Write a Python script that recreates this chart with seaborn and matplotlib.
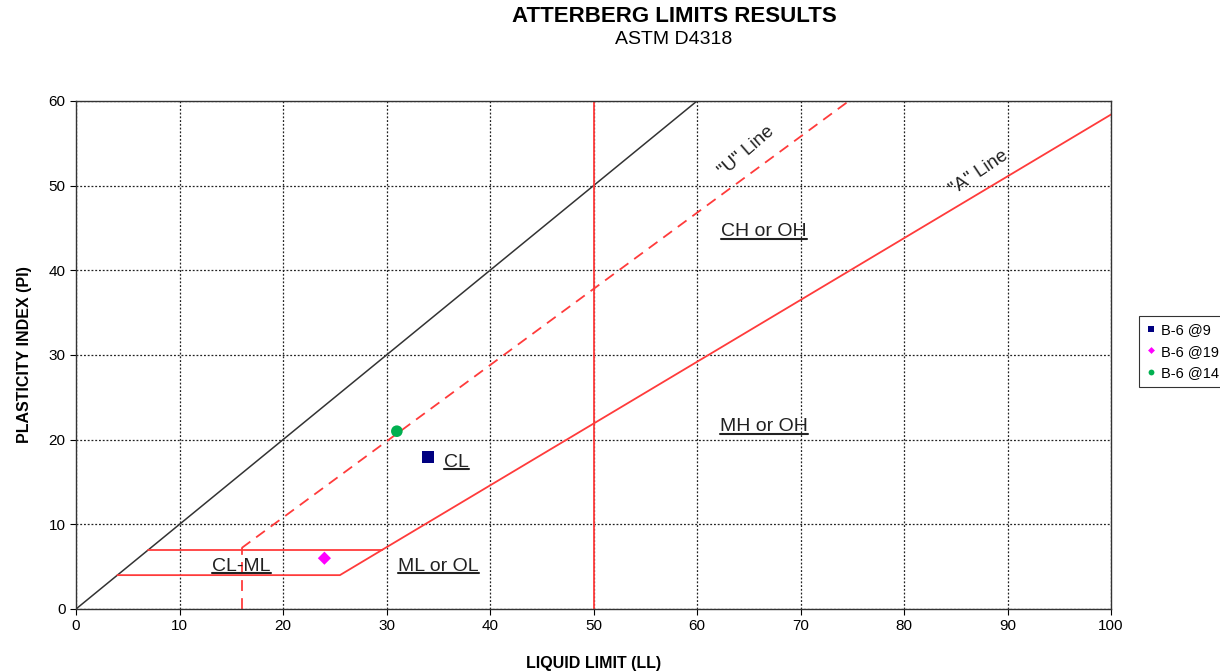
import matplotlib
matplotlib.use("Agg")
import matplotlib.pyplot as plt
import seaborn as sns
import pandas as pd
from matplotlib.lines import Line2D

# ---- data ----
samples = ["B-6 @9", "B-6 @19", "B-6 @14"]
liquid_limit = [34, 24, 31]
plasticity_index = [18, 6, 21]
sample_colors = ["#000080", "#FF00FF", "#00B050"]
sample_markers = ["s", "D", "o"]

# reference lines (LL, PI endpoints)
equal_ll = [0, 60]
equal_pi = [0, 60]
u_line_ll = [16, 74.67]
u_line_pi = [7.2, 60]
a_line_ll = [29.6, 100]
a_line_pi = [7, 58.4]
ll50_ll = [50, 50]
ll50_pi = [0, 60]
clml_top_ll = [7, 29.6]
clml_top_pi = [7, 7]
clml_bot_ll = [4, 25.5, 29.6]
clml_bot_pi = [4, 4, 7]
ll16_ll = [16, 16]
ll16_pi = [0, 7.2]

zone_labels = ["CH or OH", "MH or OH", "CL", "CL-ML", "ML or OL"]
zone_ll = [66.5, 66.5, 36.8, 16, 35]
zone_pi = [44.0, 21.0, 16.8, 4.5, 4.5]

xticks = list(range(0, 101, 10))
yticks = list(range(0, 61, 10))

sns.set_style("white")
plt.rcParams["font.family"] = ["Liberation Sans", "DejaVu Sans"]
plt.rcParams["text.color"] = "black"
plt.rcParams["axes.labelcolor"] = "black"
plt.rcParams["xtick.color"] = "black"
plt.rcParams["ytick.color"] = "black"

fig = plt.figure(figsize=(12.2, 6.72), dpi=100)
ax = fig.add_axes([76 / 1220, 1 - 609 / 672, (1111 - 76) / 1220, (609 - 101) / 672])

red = "#FF3B3B"
ax.plot(equal_ll, equal_pi, color="#333333", lw=1.1, zorder=2)
ax.plot(u_line_ll, u_line_pi, color=red, lw=1.3, ls=(0, (6, 4)), zorder=2)
ax.plot(a_line_ll, a_line_pi, color=red, lw=1.3, zorder=2)
ax.plot(ll50_ll, ll50_pi, color=red, lw=1.3, zorder=2)
ax.plot(clml_top_ll, clml_top_pi, color=red, lw=1.3, zorder=2)
ax.plot(clml_bot_ll, clml_bot_pi, color=red, lw=1.3, zorder=2)
ax.plot(ll16_ll, ll16_pi, color=red, lw=1.3, ls=(0, (6, 4)), zorder=2)

df = pd.DataFrame({"Sample": samples, "LL": liquid_limit, "PI": plasticity_index})
sns.scatterplot(data=df, x="LL", y="PI", hue="Sample", style="Sample", size="Sample",
                palette=dict(zip(samples, sample_colors)),
                markers=dict(zip(samples, sample_markers)),
                sizes=dict(zip(samples, [75, 45, 70])),
                edgecolor="none", ax=ax, zorder=5, legend=False)

ax.set_xlim(0, 100)
ax.set_ylim(0, 60)
ax.set_xticks(xticks)
ax.set_yticks(yticks)
ax.tick_params(labelsize=11, length=4, direction="out", color="black", bottom=True, left=True)
ax.grid(True, color="#222222", ls=(0, (1.5, 1.5)), lw=0.9)
for sp in ax.spines.values():
    sp.set_color("#333333")
    sp.set_linewidth(1.0)
ax.set_xlabel("LIQUID LIMIT (LL)", fontsize=11.5, fontweight="bold", labelpad=16)
ax.set_ylabel("PLASTICITY INDEX (PI)", fontsize=11.5, fontweight="bold", labelpad=12)

# zone labels (underlined)
texts = []
for lab, x, y in zip(zone_labels, zone_ll, zone_pi):
    t = ax.text(x, y, lab, fontsize=14, ha="center", va="baseline", color="#222222", zorder=6)
    texts.append(t)
ax.text(64.8, 54, '"U" Line', fontsize=13.5, rotation=41, ha="center", va="center", color="#222222")
ax.text(87.2, 51.5, '"A" Line', fontsize=13.5, rotation=34, ha="center", va="center", color="#222222")

fig.canvas.draw()
renderer = fig.canvas.get_renderer()
inv = ax.transAxes.inverted()
for t in texts:
    bb = t.get_window_extent(renderer)
    base = ax.transData.transform(t.get_position())[1]
    (x0, y0), (x1, y1) = inv.transform([(bb.x0, base - 2.5), (bb.x1, base - 2.5)])
    ax.add_line(Line2D([x0, x1], [y0, y1], transform=ax.transAxes, color="#222222", lw=1.5, zorder=6))

# legend
handles = [Line2D([], [], marker=m, color=c, ls="none", markersize=ms, markeredgewidth=0)
           for m, c, ms in zip(sample_markers, sample_colors, [4, 3.5, 4.2])]
leg = fig.legend(handles, samples, loc="upper left", bbox_to_anchor=(1139 / 1220, 1 - 316 / 672),
                 fontsize=10.5, frameon=True, fancybox=False, edgecolor="black",
                 handlelength=0.6, handletextpad=0.4, borderpad=0.5, labelspacing=0.5,
                 borderaxespad=0)
leg.get_frame().set_linewidth(0.8)

fig.text(674 / 1220, 1 - 17 / 672, "ATTERBERG LIMITS RESULTS", fontsize=16, fontweight="bold",
         ha="center", va="center")
fig.text(674 / 1220, 1 - 39 / 672, "ASTM D4318", fontsize=14, ha="center", va="center")

fig.savefig("out.png", dpi=100)
